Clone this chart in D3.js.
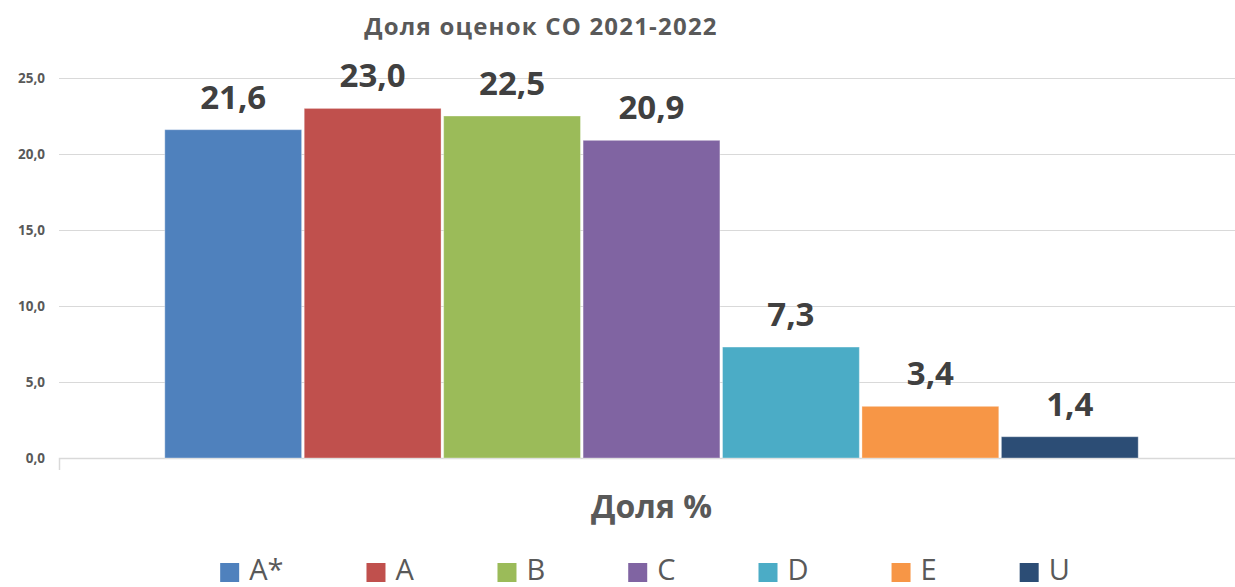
<!DOCTYPE html>
<html lang="ru">
<head>
<meta charset="utf-8">
<script src="https://cdn.jsdelivr.net/npm/d3@7"></script>
<style>
  html, body { margin: 0; padding: 0; background: #fff; overflow: hidden; }
  svg { display: block; font-family: "Open Sans", "Noto Sans", sans-serif; }
</style>
</head>
<body>
<svg id="chart" width="1235" height="587"></svg>
<script>
// данные графика
const categorias = ["Доля %"];
const series = ["A*", "A", "B", "C", "D", "E", "U"];
const valores = [21.6, 23.0, 22.5, 20.9, 7.3, 3.4, 1.4];
const cores = ["#4f81bd", "#c0504d", "#9bbb59", "#8064a2", "#4bacc6", "#f79646", "#2c4d75"];
const ticksY = [0, 5, 10, 15, 20, 25];
const titulo = "Доля оценок СО 2021-2022";

// a área do gráfico passa um pouco da borda direita, como no original
const margin = { top: 78, right: -9, bottom: 129, left: 59 };
const W = 1235, H = 587;
const innerW = W - margin.left - margin.right;
const innerH = H - margin.top - margin.bottom;

const ru = d3.formatLocale({ decimal: ",", thousands: " ", grouping: [3], currency: ["", ""] });
const fmt = ru.format(".1f");

const svg = d3.select("#chart");
const g = svg.append("g").attr("transform", `translate(${margin.left},${margin.top})`);

const y = d3.scaleLinear().domain([0, 25]).range([innerH, 0]);
const x0 = d3.scaleBand().domain(categorias).range([0, innerW]).padding(0.0967);
const x1 = d3.scaleBand().domain(series).range([0, x0.bandwidth()]);

// linhas de grade
const grid = g.append("g").call(d3.axisLeft(y).tickValues(ticksY).tickSize(-innerW).tickFormat(fmt));
grid.select(".domain").remove();
grid.selectAll(".tick line").attr("stroke", "#d9d9d9").attr("stroke-width", 1);
grid.selectAll(".tick text")
  .attr("fill", "#595959").attr("font-size", "13.5px").attr("font-weight", "700")
  .attr("x", -14).style("font-family", "'Open Sans', sans-serif");

// eixo x
const eixoX = g.append("g").attr("transform", `translate(0,${innerH})`)
  .call(d3.axisBottom(x0).tickSize(0).tickFormat(""));
eixoX.select(".domain").attr("stroke", "#d9d9d9").attr("stroke-width", 1.5)
  .attr("d", `M0.5,12V0.5H${innerW - 0.5}V12`);

// barras
const grupo = g.append("g").selectAll("g")
  .data(categorias).join("g")
  .attr("transform", d => `translate(${x0(d)},0)`);

const dados = series.map((s, i) => ({ serie: s, valor: valores[i], cor: cores[i] }));

grupo.selectAll("rect")
  .data(dados).join("rect")
  .attr("x", d => x1(d.serie) + 1.3)
  .attr("width", x1.bandwidth() - 2.6)
  .attr("y", d => y(d.valor))
  .attr("height", d => innerH - y(d.valor))
  .attr("fill", d => d.cor)
  .attr("stroke", "rgba(255,255,255,0.35)")
  .attr("stroke-width", 1);

grupo.selectAll(".rotulo")
  .data(dados).join("text")
  .attr("class", "rotulo")
  .attr("x", d => x1(d.serie) + x1.bandwidth() / 2)
  .attr("y", d => y(d.valor) - 21)
  .attr("text-anchor", "middle")
  .attr("fill", "#404040")
  .attr("font-size", "33px")
  .attr("font-weight", "700")
  .text(d => fmt(d.valor));

// título
svg.append("text")
  .attr("x", 541).attr("y", 35)
  .attr("text-anchor", "middle")
  .attr("fill", "#595959").attr("font-size", "24px").attr("font-weight", "700")
  .attr("letter-spacing", "1.2px")
  .text(titulo);

// título do eixo
svg.append("text")
  .attr("x", margin.left + x0(categorias[0]) + x0.bandwidth() / 2).attr("y", 518)
  .attr("text-anchor", "middle")
  .attr("fill", "#595959").attr("font-size", "32px").attr("font-weight", "700")
  .text(categorias[0]);

// legenda
const legenda = svg.append("g");
const itens = legenda.selectAll("g").data(dados).join("g");
itens.append("rect").attr("width", 19).attr("height", 19).attr("y", -17).attr("fill", d => d.cor);
itens.append("text").attr("x", 29).attr("y", 0)
  .attr("fill", "#595959").attr("font-size", "29px").attr("font-weight", "400")
  .text(d => d.serie);

const espaco = 83;
let pos = 0;
itens.each(function () {
  const w = this.getBBox().width;
  this.__pos = pos;
  pos += w + espaco;
});
const totalW = pos - espaco;
const inicio = 645 - totalW / 2;
itens.attr("transform", function () { return `translate(${inicio + this.__pos},580)`; });
</script>
</body>
</html>
